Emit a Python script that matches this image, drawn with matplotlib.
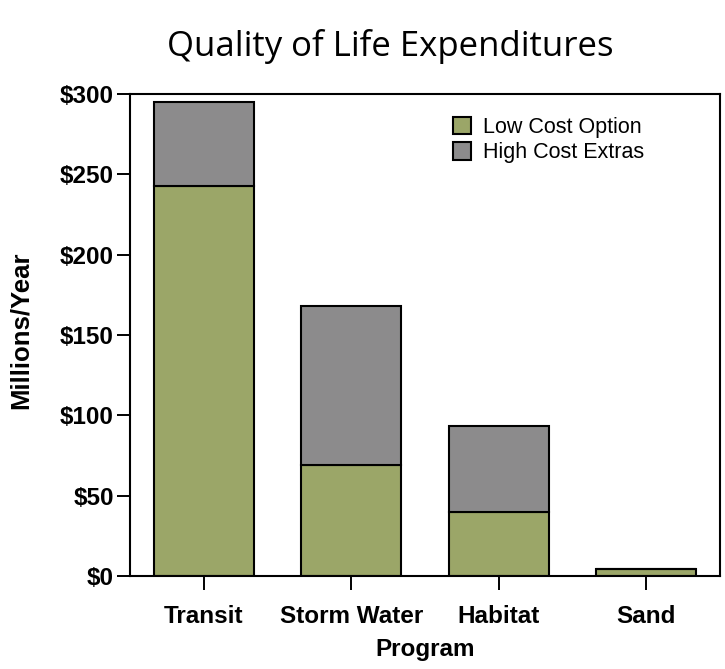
import matplotlib
matplotlib.use("Agg")
import matplotlib.pyplot as plt
from matplotlib.ticker import FuncFormatter

categories = ["Transit", "Storm Water", "Habitat", "Sand"]
low_cost = [243, 69, 40, 4.5]
high_extras = [52, 99, 53.5, 0]
yticks = [0, 50, 100, 150, 200, 250, 300]

green = "#9ba668"
gray = "#8c8b8c"

fig = plt.figure(figsize=(7.25, 6.69), dpi=100)
ax = fig.add_axes([130/725, 1-576/669, 590/725, 482/669])

x = list(range(len(categories)))
ax.bar(x, low_cost, width=0.675, color=green, edgecolor="black", linewidth=1.5, label="Low Cost Option", zorder=2)
ax.bar(x, high_extras, width=0.675, bottom=low_cost, color=gray, edgecolor="black", linewidth=1.5, label="High Cost Extras", zorder=2)

ax.set_xlim(-0.5, 3.5)
ax.set_ylim(0, 300)
ax.set_yticks(yticks)
ax.yaxis.set_major_formatter(FuncFormatter(lambda v, p: f"${int(v)}"))
ax.set_xticks(x)
ax.set_xticklabels(categories)

font = ["Liberation Sans", "DejaVu Sans"]
for lab in ax.get_yticklabels() + ax.get_xticklabels():
    lab.set_fontfamily(font)
    lab.set_fontweight("bold")
    lab.set_fontsize(17.5)
ax.tick_params(axis="y", length=9.5, width=1.4, direction="out", pad=2)
ax.tick_params(axis="x", length=10, width=1.4, direction="out", pad=11)
for s in ax.spines.values():
    s.set_linewidth(1.5)

ax.set_ylabel("Millions/Year", fontfamily=font, fontweight="bold", fontsize=18.5)
ax.yaxis.set_label_coords((33-130)/590, (576-330)/482)
ax.set_xlabel("Program", fontfamily=font, fontweight="bold", fontsize=17.5, labelpad=7)

fig.text(390/725, 1-46/669, "Quality of Life Expenditures", ha="center", va="center",
         fontfamily=["Open Sans", "DejaVu Sans"], fontsize=25)

leg = fig.legend(loc="upper left", bbox_to_anchor=(453/725, 1-117/669), frameon=False,
                 prop={"family": font, "size": 15.5}, handlelength=0.85, handleheight=0.85,
                 handletextpad=0.55, labelspacing=0.2, borderpad=0, borderaxespad=0)

fig.savefig("out.png", dpi=100)
